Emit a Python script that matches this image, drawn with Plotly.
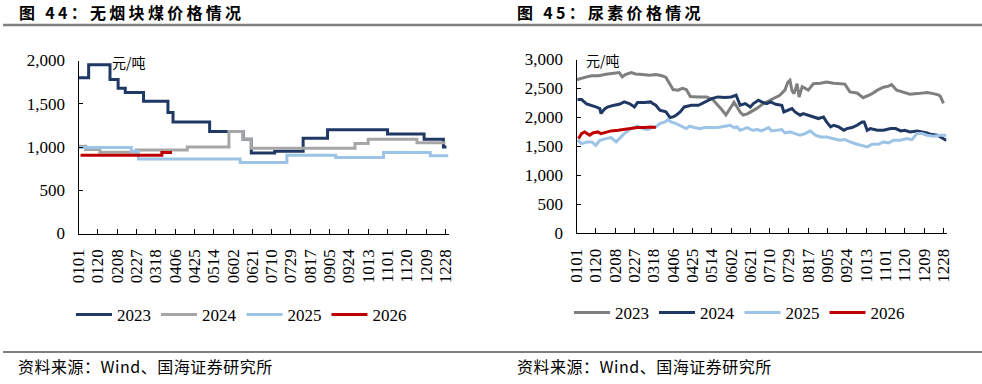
import plotly.graph_objects as go
import pandas as pd

W, H = 982, 384

# ---------------- data ----------------
tick_labels = ["0101", "0120", "0208", "0227", "0318", "0406", "0425", "0514", "0602", "0621",
               "0710", "0729", "0817", "0905", "0924", "1013", "1101", "1120", "1209", "1228"]
years = ["2023", "2024", "2025", "2026"]

# Figure 44: anthracite lump coal price (yuan/t), step series: day-of-year offsets and values
coal_2023_days = [0, 10, 31, 39, 46, 64, 88, 93, 129, 162, 170, 193, 221, 245, 304, 340, 359, 362]
coal_2023 = [1800, 1950, 1780, 1680, 1630, 1530, 1400, 1290, 1180, 1090, 930, 950, 1100, 1200, 1150, 1090, 1000, 1000]
coal_2024_days = [0, 7, 21, 57, 107, 148, 162, 170, 272, 285, 333, 361]
coal_2024 = [1010, 970, 940, 965, 1000, 1180, 1090, 985, 1040, 1090, 1050, 1050]
coal_2025_days = [0, 52, 59, 159, 205, 253, 300, 346, 364]
coal_2025 = [995, 950, 860, 820, 905, 880, 935, 900, 900]
coal_2026_days = [2, 82, 92]
coal_2026 = [905, 935, 935]

# Figure 45: urea price (yuan/t)
urea_2023_days = [0, 5, 10, 15, 22, 29, 35, 42, 45, 48, 54, 58, 62, 67, 72, 78, 84, 88, 91, 95, 100, 104,
                  108, 112, 120, 128, 134, 139, 143, 147, 151, 155, 158, 161, 164, 168, 171, 177, 184, 190,
                  195, 200, 205, 208, 210, 212, 214, 217, 219, 222, 228, 233, 240, 246, 253, 258, 264, 269,
                  276, 282, 286, 290, 296, 302, 307, 310, 315, 322, 328, 335, 340, 345, 351, 356, 358, 361]
urea_2023 = [2650, 2680, 2700, 2720, 2720, 2745, 2757, 2775, 2700, 2740, 2775, 2750, 2745, 2740, 2730, 2740,
             2720, 2690, 2600, 2480, 2470, 2500, 2480, 2360, 2350, 2350, 2310, 2220, 2130, 2040, 2150, 2260,
             2180, 2090, 2040, 2060, 2090, 2150, 2240, 2290, 2330, 2380, 2470, 2610, 2640, 2460, 2410, 2580,
             2350, 2530, 2470, 2580, 2590, 2610, 2590, 2580, 2575, 2440, 2420, 2340, 2370, 2400, 2470, 2520,
             2540, 2565, 2470, 2430, 2400, 2410, 2420, 2430, 2410, 2390, 2360, 2240]
urea_2024_days = [1, 5, 10, 15, 19, 23, 24, 28, 31, 37, 42, 47, 52, 57, 60, 67, 73, 75, 78, 82, 85, 88, 92,
                  95, 98, 102, 106, 113, 120, 126, 133, 139, 146, 152, 157, 161, 166, 171, 174, 179, 182,
                  187, 191, 196, 202, 204, 209, 212, 215, 220, 223, 228, 233, 238, 243, 246, 250, 253, 258,
                  263, 266, 271, 276, 281, 283, 286, 289, 296, 302, 309, 314, 319, 323, 328, 335, 340, 345,
                  348, 355, 358, 361, 364]
urea_2024 = [2307, 2307, 2230, 2209, 2180, 2151, 2065, 2151, 2180, 2209, 2226, 2267, 2238, 2180, 2255, 2255,
             2267, 2238, 2209, 2122, 2111, 2094, 1996, 2007, 2036, 2094, 2180, 2209, 2209, 2267, 2324, 2353,
             2342, 2353, 2382, 2209, 2238, 2180, 2238, 2296, 2267, 2238, 2267, 2226, 2209, 2094, 2122, 2151,
             2094, 2036, 2065, 2036, 2007, 1979, 2007, 1921, 1834, 1863, 1834, 1776, 1805, 1823, 1863, 1921,
             1921, 1776, 1805, 1776, 1776, 1805, 1805, 1765, 1776, 1748, 1765, 1748, 1730, 1707, 1690, 1660,
             1630, 1600]
urea_2025_days = [1, 5, 11, 15, 19, 23, 29, 34, 39, 42, 47, 54, 60, 65, 70, 74, 78, 82, 87, 90, 93, 98, 103,
                  108, 111, 116, 121, 126, 133, 139, 146, 151, 155, 158, 161, 168, 173, 178, 182, 189, 192,
                  197, 202, 205, 210, 215, 220, 225, 230, 235, 240, 246, 253, 259, 264, 269, 276, 282, 286,
                  291, 297, 302, 307, 312, 319, 325, 330, 335, 340, 345, 351, 358, 364]
urea_2025 = [1604, 1546, 1575, 1575, 1517, 1603, 1632, 1650, 1575, 1632, 1719, 1805, 1846, 1805, 1788, 1823,
             1834, 1892, 1921, 1961, 1921, 1892, 1846, 1805, 1846, 1823, 1805, 1823, 1823, 1823, 1846, 1863,
             1823, 1834, 1776, 1823, 1776, 1788, 1765, 1823, 1765, 1776, 1788, 1730, 1748, 1719, 1690, 1719,
             1765, 1690, 1661, 1661, 1632, 1603, 1615, 1575, 1534, 1500, 1488, 1534, 1534, 1575, 1558, 1603,
             1603, 1632, 1615, 1719, 1719, 1690, 1673, 1690, 1690]
urea_2026_days = [2, 5, 8, 13, 16, 21, 24, 29, 34, 41, 47, 54, 60, 67, 73, 78]
urea_2026 = [1632, 1719, 1748, 1690, 1730, 1748, 1719, 1748, 1765, 1776, 1788, 1805, 1823, 1823, 1834, 1823]

coal_series = [(coal_2023_days, coal_2023), (coal_2024_days, coal_2024),
               (coal_2025_days, coal_2025), (coal_2026_days, coal_2026)]
urea_series = [(urea_2023_days, urea_2023), (urea_2024_days, urea_2024),
               (urea_2025_days, urea_2025), (urea_2026_days, urea_2026)]

coal_colors = ["#203864", "#A6A6A6", "#9DC3E6", "#C00000"]
urea_colors = ["#7F7F7F", "#203864", "#9DC3E6", "#C00000"]

title_left = "图 44：无烟块煤价格情况"
title_right = "图 45：尿素价格情况"
source_text = "资料来源：Wind、国海证券研究所"
unit_text = "元/吨"

# ---------------- helpers ----------------
BASE = pd.Timestamp("2023-01-01")


def to_dates(days):
    return [(BASE + pd.Timedelta(days=int(d))).strftime("%Y-%m-%d") for d in days]


tick_vals = ["2023-%s-%s" % (t[:2], t[2:]) for t in tick_labels]
x_range = ["2023-01-01", "2023-12-31"]

SERIF = "Liberation Serif"
CJK = "Noto Sans CJK SC"


def px_x(p):
    return p / W


def px_y(p):
    return 1 - p / H


fig = go.Figure()

for name, (d, v), c in zip(years, coal_series, coal_colors):
    fig.add_trace(go.Scatter(x=to_dates(d), y=v, name=name, mode="lines",
                             line=dict(color=c, width=3, shape="hv"),
                             xaxis="x", yaxis="y", legend="legend"))

for name, (d, v), c in zip(years, urea_series, urea_colors):
    fig.add_trace(go.Scatter(x=to_dates(d), y=v, name=name, mode="lines",
                             line=dict(color=c, width=3),
                             xaxis="x2", yaxis="y2", legend="legend2"))

xcommon = dict(type="date", range=x_range, tickmode="array", tickvals=tick_vals, ticktext=tick_labels,
               tickangle=-90, ticks="inside", ticklen=5, tickcolor="black", tickwidth=1,
               showline=True, linecolor="black", linewidth=1, showgrid=False, zeroline=False,
               tickfont=dict(family=SERIF, size=17, color="black"), ticklabelstandoff=8,
               fixedrange=True, automargin=False)
ycommon = dict(ticks="inside", ticklen=4, tickcolor="black", tickwidth=1, tickformat=",",
               showline=True, linecolor="black", linewidth=1, showgrid=False, zeroline=False,
               tickfont=dict(family=SERIF, size=17, color="black"), ticklabelstandoff=9,
               fixedrange=True, automargin=False)

fig.update_layout(
    width=W, height=H, margin=dict(l=0, r=0, t=0, b=0, pad=0, autoexpand=False),
    paper_bgcolor="white", plot_bgcolor="white", showlegend=True,
    xaxis=dict(xcommon, domain=[px_x(78.5), px_x(448.5)], anchor="y"),
    yaxis=dict(ycommon, domain=[px_y(233.5), px_y(60.5)], range=[0, 2000], tickvals=[0, 500, 1000, 1500, 2000], anchor="x"),
    xaxis2=dict(xcommon, domain=[px_x(576.5), px_x(946.5)], anchor="y2"),
    yaxis2=dict(ycommon, domain=[px_y(233), px_y(59.5)], range=[0, 3000],
                tickvals=[0, 500, 1000, 1500, 2000, 2500, 3000], anchor="x2"),
    legend=dict(orientation="h", x=px_x(71), xanchor="left", y=px_y(315), yanchor="middle",
                font=dict(family=SERIF, size=17, color="black"), bgcolor="rgba(0,0,0,0)", itemwidth=36),
    legend2=dict(orientation="h", x=px_x(569), xanchor="left", y=px_y(313), yanchor="middle",
                 font=dict(family=SERIF, size=17, color="black"), bgcolor="rgba(0,0,0,0)", itemwidth=36),
)

ann = []
for text, x in [(title_left, 17), (title_right, 515)]:
    ann.append(dict(text="<b><span style='letter-spacing:3.3px'>%s</span></b>" % text, xref="paper", yref="paper",
                    x=px_x(x), y=px_y(12), xanchor="left", yanchor="middle", showarrow=False,
                    font=dict(family=CJK, size=16, color="black")))
for x in [16, 515]:
    ann.append(dict(text="<span style='letter-spacing:0.5px'>%s</span>" % source_text, xref="paper", yref="paper",
                    x=px_x(x), y=px_y(366), xanchor="left", yanchor="middle", showarrow=False,
                    font=dict(family=CJK, size=16, color="black")))
for x, y in [(110, 62), (584, 60)]:
    ann.append(dict(text=unit_text, xref="paper", yref="paper", x=px_x(x), y=px_y(y),
                    xanchor="left", yanchor="middle", showarrow=False,
                    font=dict(family=CJK, size=14, color="black")))
fig.update_layout(annotations=ann)

fig.update_layout(shapes=[
    dict(type="line", xref="paper", yref="paper", x0=px_x(3), x1=1, y0=px_y(25), y1=px_y(25),
         line=dict(color="#808080", width=2.5)),
    dict(type="line", xref="paper", yref="paper", x0=px_x(3), x1=1, y0=px_y(352), y1=px_y(352),
         line=dict(color="#808080", width=2)),
])

fig.write_html("out.html", config={"displayModeBar": False, "staticPlot": True},
               post_script="document.body.style.margin='0';document.body.style.overflow='hidden';")
